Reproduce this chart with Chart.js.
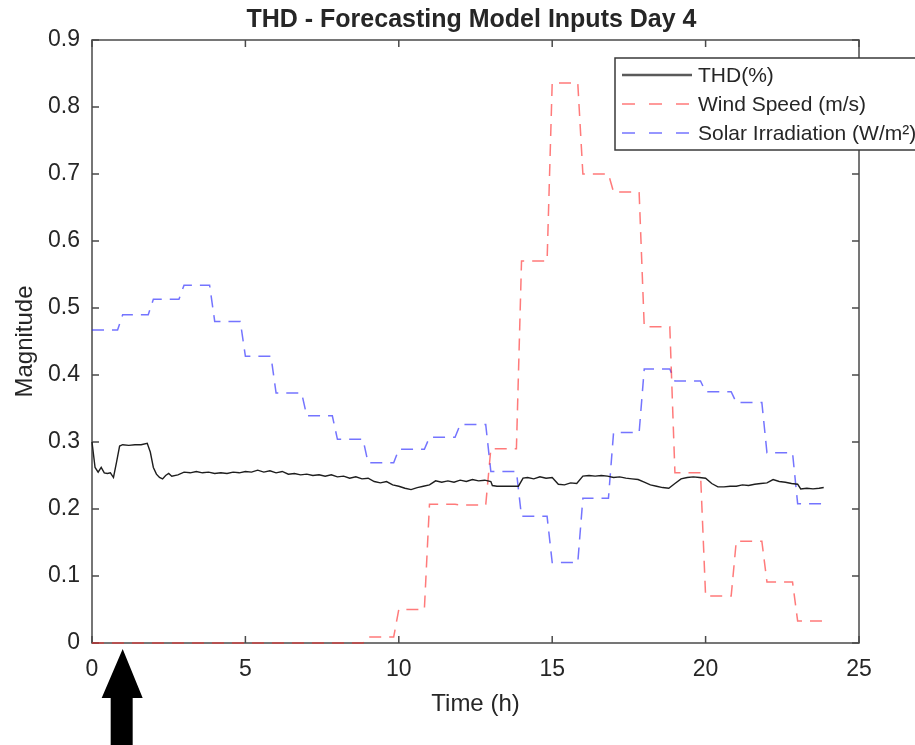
<!DOCTYPE html>
<html>
<head>
<meta charset="utf-8">
<title>THD - Forecasting Model Inputs Day 4</title>
<script src="https://cdn.jsdelivr.net/npm/chart.js@4.4.1/dist/chart.umd.min.js"></script>
<style>
  html, body { margin: 0; padding: 0; background: #fff; overflow: hidden; }
</style>
</head>
<body>
<canvas id="thd-day4" width="915" height="745"></canvas>
<script>
/* THD e entradas do modelo de previsão · dia 4
   Valores (MATLAB). Vento e irradiação são
   médias horárias; THD é a série contínua. */

const xTicks = [0, 5, 10, 15, 20, 25];
const yTicks = [0, 0.1, 0.2, 0.3, 0.4, 0.5, 0.6, 0.7, 0.8, 0.9];

const hours = [0, 1, 2, 3, 4, 5, 6, 7, 8, 9, 10, 11, 12, 13, 14, 15, 16, 17, 18, 19, 20, 21, 22, 23];

const windSpeed = [0, 0, 0, 0, 0, 0, 0, 0, 0, 0.009, 0.05, 0.207, 0.206, 0.29,
                   0.57, 0.836, 0.70, 0.673, 0.472, 0.254, 0.07, 0.152, 0.091, 0.033];

const solarIrr = [0.467, 0.49, 0.513, 0.534, 0.48, 0.428, 0.373, 0.339, 0.304, 0.269, 0.289, 0.307,
                  0.326, 0.256, 0.189, 0.12, 0.216, 0.314, 0.409, 0.391, 0.375, 0.359, 0.284, 0.208];

/* último registro de 10 min dentro de cada hora */
const lastSample = 5 / 6;

const thdHours = [
  0.0, 0.1, 0.2, 0.3, 0.4, 0.5, 0.6, 0.7, 0.8, 0.9, 1.0, 1.2, 1.4, 1.6, 1.8, 1.9,
  2.0, 2.1, 2.2, 2.3, 2.4, 2.5, 2.6, 2.8, 3.0, 3.2, 3.4, 3.6, 3.8, 4.0, 4.2, 4.4,
  4.6, 4.8, 5.0, 5.2, 5.4, 5.6, 5.8, 6.0, 6.2, 6.4, 6.6, 6.8, 7.0, 7.2, 7.4, 7.6,
  7.8, 8.0, 8.2, 8.4, 8.6, 8.8, 9.0, 9.2, 9.4, 9.6, 9.8, 10.0, 10.2, 10.4, 10.6, 10.8,
  11.0, 11.2, 11.4, 11.6, 11.8, 12.0, 12.2, 12.4, 12.6, 12.8, 13.0, 13.05, 13.2, 13.9, 14.05, 14.2,
  14.4, 14.6, 14.8, 15.0, 15.2, 15.4, 15.6, 15.8, 16.0, 16.2, 16.4, 16.6, 16.8, 17.0, 17.2, 17.4,
  17.6, 17.8, 18.0, 18.2, 18.4, 18.6, 18.8, 19.0, 19.2, 19.4, 19.6, 19.8, 20.0, 20.2, 20.4, 20.6,
  20.8, 21.0, 21.2, 21.4, 21.6, 21.8, 22.0, 22.2, 22.4, 22.6, 22.8, 23.0, 23.1, 23.3, 23.5, 23.7, 23.85
];

const thdValues = [
  0.300, 0.262, 0.255, 0.262, 0.254, 0.253, 0.254, 0.247, 0.270, 0.294, 0.296, 0.295, 0.296, 0.296, 0.298, 0.285,
  0.262, 0.252, 0.247, 0.245, 0.250, 0.253, 0.249, 0.251, 0.255, 0.254, 0.256, 0.254, 0.255, 0.253, 0.254, 0.253,
  0.255, 0.254, 0.256, 0.255, 0.258, 0.255, 0.257, 0.254, 0.256, 0.252, 0.253, 0.251, 0.252, 0.250, 0.251, 0.249,
  0.251, 0.248, 0.249, 0.246, 0.248, 0.245, 0.246, 0.241, 0.239, 0.241, 0.236, 0.234, 0.231, 0.229, 0.232, 0.234,
  0.236, 0.242, 0.240, 0.242, 0.240, 0.243, 0.241, 0.244, 0.242, 0.243, 0.241, 0.235, 0.234, 0.234, 0.246, 0.247,
  0.245, 0.248, 0.246, 0.247, 0.237, 0.236, 0.239, 0.238, 0.249, 0.250, 0.249, 0.250, 0.249, 0.247, 0.248, 0.246,
  0.245, 0.244, 0.240, 0.236, 0.234, 0.232, 0.231, 0.238, 0.245, 0.247, 0.248, 0.247, 0.246, 0.238, 0.233, 0.233,
  0.234, 0.234, 0.236, 0.235, 0.237, 0.238, 0.239, 0.244, 0.241, 0.240, 0.238, 0.237, 0.230, 0.231, 0.230, 0.231, 0.232
];

const arrowHour = 1;

(function () {
  'use strict';

  const canvas = document.getElementById('thd-day4');
  if (!canvas || typeof Chart === 'undefined') return;

  const FONT = "'Liberation Sans', Arial, Helvetica, sans-serif";
  const colors = {
    text:  '#262626',
    axis:  '#4a4a4a',
    thd:   '#1e1e1e',
    wind:  'rgba(255, 40, 40, 0.62)',
    solar: 'rgba(30, 30, 255, 0.62)'
  };

  // médias horárias -> degraus (início e último registro de cada hora)
  function stairs(vals) {
    const pts = [];
    hours.forEach(function (h, i) {
      pts.push({ x: h, y: vals[i] });
      pts.push({ x: h + lastSample, y: vals[i] });
    });
    return pts;
  }

  const thdPoints = thdHours.map(function (h, i) { return { x: h, y: thdValues[i] }; });

  /* moldura estilo MATLAB, ticks para dentro, título, legenda e seta */
  const matlabFrame = {
    id: 'matlabFrame',
    beforeDatasetsDraw(chart) {
      const { ctx, chartArea: a, scales: { x, y } } = chart;
      ctx.save();
      ctx.strokeStyle = colors.axis;
      ctx.lineWidth = 1.5;
      ctx.strokeRect(a.left, a.top, a.right - a.left, a.bottom - a.top);
      ctx.beginPath();
      xTicks.forEach(function (t) {
        const px = x.getPixelForValue(t);
        ctx.moveTo(px, a.bottom); ctx.lineTo(px, a.bottom - 7);
        ctx.moveTo(px, a.top);    ctx.lineTo(px, a.top + 7);
      });
      yTicks.forEach(function (t) {
        const py = y.getPixelForValue(t);
        ctx.moveTo(a.left, py);  ctx.lineTo(a.left + 7, py);
        ctx.moveTo(a.right, py); ctx.lineTo(a.right - 7, py);
      });
      ctx.stroke();
      ctx.restore();
    },
    afterDatasetsDraw(chart) {
      const { ctx, chartArea: a, scales: { x } } = chart;
      ctx.save();

      // título
      ctx.fillStyle = colors.text;
      ctx.font = 'bold 25px ' + FONT;
      ctx.textAlign = 'center';
      ctx.textBaseline = 'alphabetic';
      ctx.fillText('THD - Forecasting Model Inputs Day 4', (a.left + a.right) / 2 - 4, 27);

      // legenda (sai pela borda direita, como no original)
      const bx = a.right - 244, by = a.top + 18;
      ctx.fillStyle = '#fff';
      ctx.fillRect(bx, by, 330, 92);
      ctx.strokeStyle = '#3a3a3a';
      ctx.lineWidth = 1.5;
      ctx.strokeRect(bx, by, 330, 92);
      ctx.font = '21px ' + FONT;
      ctx.textAlign = 'left';
      ctx.textBaseline = 'middle';
      chart.data.datasets.forEach(function (ds, i) {
        const ry = by + 17 + i * 29;
        ctx.beginPath();
        ctx.strokeStyle = i === 0 ? '#5a5a5a' : ds.borderColor;
        ctx.lineWidth = i === 0 ? 2.5 : 1.6;
        ctx.setLineDash(ds.borderDash && ds.borderDash.length ? [13, 14] : []);
        ctx.moveTo(bx + 7, ry);
        ctx.lineTo(bx + 77, ry);
        ctx.stroke();
        ctx.setLineDash([]);
        ctx.fillStyle = colors.text;
        ctx.fillText(ds.label, bx + 83, ry + 1);
      });

      // seta apontando a hora 1
      const ax = x.getPixelForValue(arrowHour);
      const tip = a.bottom + 6;
      ctx.fillStyle = '#000';
      ctx.beginPath();
      ctx.moveTo(ax, tip);
      ctx.lineTo(ax + 20, tip + 49);
      ctx.lineTo(ax + 10, tip + 49);
      ctx.lineTo(ax + 10, tip + 110);
      ctx.lineTo(ax - 12, tip + 110);
      ctx.lineTo(ax - 12, tip + 49);
      ctx.lineTo(ax - 21, tip + 49);
      ctx.closePath();
      ctx.fill();

      ctx.restore();
    }
  };

  new Chart(canvas, {
    type: 'line',
    data: {
      datasets: [
        {
          label: 'THD(%)',
          data: thdPoints,
          borderColor: colors.thd,
          borderWidth: 1.4,
          pointRadius: 0,
          tension: 0,
          clip: 6
        },
        {
          label: 'Wind Speed (m/s)',
          data: stairs(windSpeed),
          borderColor: colors.wind,
          borderWidth: 1.5,
          borderDash: [12, 8],
          pointRadius: 0,
          tension: 0,
          clip: 6
        },
        {
          label: 'Solar Irradiation (W/m²)',
          data: stairs(solarIrr),
          borderColor: colors.solar,
          borderWidth: 1.5,
          borderDash: [12, 8],
          pointRadius: 0,
          tension: 0,
          clip: 6
        }
      ]
    },
    options: {
      responsive: false,
      animation: false,
      events: [],
      layout: { padding: { top: 40, right: 56, left: 0, bottom: 0 } },
      plugins: {
        legend:  { display: false },
        title:   { display: false },
        tooltip: { enabled: false }
      },
      scales: {
        x: {
          type: 'linear',
          min: 0,
          max: 25,
          grid:   { display: false, drawTicks: false },
          border: { display: false },
          ticks: {
            stepSize: 5,
            padding: 13,
            color: colors.text,
            font: { size: 23, family: FONT },
            maxRotation: 0
          },
          title: {
            display: true,
            text: 'Time (h)',
            color: colors.text,
            font: { size: 24, family: FONT },
            padding: { top: 0, bottom: 26 }
          },
          afterFit(s) { s.height = 102; }
        },
        y: {
          type: 'linear',
          min: 0,
          max: 0.9,
          grid:   { display: false, drawTicks: false },
          border: { display: false },
          ticks: {
            stepSize: 0.1,
            padding: 12,
            color: colors.text,
            font: { size: 23, family: FONT }
          },
          title: {
            display: true,
            text: 'Magnitude',
            color: colors.text,
            font: { size: 24, family: FONT },
            padding: { top: 11, bottom: 0 }
          },
          afterFit(s) { s.width = 92; }
        }
      }
    },
    plugins: [matlabFrame]
  });
})();
</script>
</body>
</html>
